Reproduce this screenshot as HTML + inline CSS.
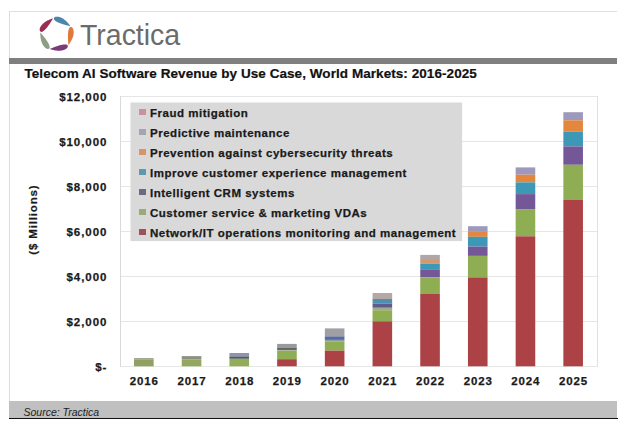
<!DOCTYPE html>
<html><head><meta charset="utf-8"><style>
html,body{margin:0;padding:0;background:#fff;width:630px;height:427px;overflow:hidden}
body{position:relative;font-family:"Liberation Sans",sans-serif}
.abs{position:absolute}
.yl{position:absolute;left:40px;width:67.4px;text-align:right;font-weight:bold;font-size:11.5px;line-height:15px;color:#1a1a1a;letter-spacing:0.95px;-webkit-text-stroke:0.25px #1a1a1a}
.xl{position:absolute;top:374.2px;width:60px;text-align:center;font-weight:bold;font-size:11.5px;line-height:15px;color:#1a1a1a;letter-spacing:0.85px;text-indent:0.85px;-webkit-text-stroke:0.25px #1a1a1a}
.lr{position:absolute;left:139px;height:14px;font-weight:bold;font-size:11.5px;line-height:14px;color:#1a1a1a;white-space:nowrap;letter-spacing:0.52px;-webkit-text-stroke:0.25px #1a1a1a}
.mk{display:inline-block;width:6.5px;height:6.5px;margin-right:4.5px;vertical-align:1.5px}
</style></head><body>
<div class="abs" style="left:9px;top:11px;width:608px;height:1px;background:#e0e0e0"></div>
<div class="abs" style="left:9px;top:11px;width:1px;height:390px;background:#dcdcdc"></div>
<svg class="abs" style="left:0;top:0" width="100" height="70"><path d="M53.90,18.08 L54.88,17.12 L55.52,16.86 L56.10,16.73 L56.65,16.66 L57.16,16.65 L57.67,16.67 L58.15,16.73 L58.63,16.81 L59.09,16.91 L59.54,17.03 L59.98,17.17 L60.42,17.33 L60.85,17.50 L61.27,17.69 L61.68,17.89 L62.09,18.10 L62.49,18.33 L62.89,18.57 L63.28,18.82 L63.67,19.08 L64.05,19.35 L64.42,19.63 L64.80,19.92 L65.16,20.22 L65.52,20.53 L65.88,20.84 L66.24,21.17 L66.58,21.50 L66.93,21.85 L67.27,22.20 L67.61,22.56 L67.94,22.93 L68.27,23.30 L68.60,23.68 L68.92,24.07 L69.24,24.47 L69.55,24.88 L69.86,25.29 L70.17,25.71 L70.48,26.14 L70.48,26.14 L70.01,26.03 L69.55,25.93 L69.09,25.82 L68.63,25.71 L68.17,25.60 L67.71,25.49 L67.26,25.38 L66.80,25.27 L66.34,25.15 L65.89,25.03 L65.44,24.91 L64.98,24.79 L64.53,24.66 L64.08,24.53 L63.63,24.40 L63.19,24.27 L62.74,24.13 L62.30,23.99 L61.85,23.85 L61.41,23.70 L60.97,23.55 L60.54,23.39 L60.10,23.23 L59.67,23.07 L59.24,22.90 L58.82,22.72 L58.39,22.53 L57.97,22.34 L57.56,22.14 L57.15,21.93 L56.74,21.72 L56.34,21.48 L55.95,21.24 L55.57,20.98 L55.19,20.69 L54.83,20.38 L54.49,20.04 L54.17,19.64 L53.90,19.14 L53.90,18.08Z" fill="#4c87ab"/><path d="M70.96,26.84 L72.17,27.48 L72.62,28.01 L72.93,28.52 L73.16,29.01 L73.33,29.50 L73.46,29.99 L73.56,30.47 L73.63,30.94 L73.68,31.41 L73.70,31.88 L73.70,32.35 L73.69,32.81 L73.65,33.27 L73.61,33.73 L73.54,34.19 L73.47,34.64 L73.38,35.09 L73.27,35.54 L73.16,35.99 L73.03,36.44 L72.89,36.88 L72.74,37.33 L72.58,37.77 L72.41,38.21 L72.22,38.65 L72.03,39.09 L71.83,39.53 L71.62,39.96 L71.40,40.40 L71.17,40.83 L70.93,41.26 L70.69,41.69 L70.43,42.12 L70.17,42.55 L69.90,42.98 L69.62,43.40 L69.33,43.83 L69.03,44.25 L68.73,44.67 L68.42,45.10 L68.42,45.10 L68.38,44.62 L68.33,44.15 L68.29,43.68 L68.25,43.21 L68.21,42.74 L68.18,42.27 L68.14,41.80 L68.11,41.33 L68.08,40.86 L68.05,40.39 L68.03,39.92 L68.00,39.45 L67.98,38.99 L67.97,38.52 L67.95,38.05 L67.94,37.59 L67.93,37.12 L67.93,36.65 L67.93,36.19 L67.93,35.72 L67.94,35.26 L67.96,34.80 L67.97,34.33 L68.00,33.87 L68.03,33.41 L68.07,32.95 L68.11,32.49 L68.16,32.03 L68.22,31.58 L68.30,31.12 L68.38,30.67 L68.48,30.22 L68.59,29.77 L68.72,29.32 L68.87,28.88 L69.05,28.44 L69.28,28.00 L69.56,27.58 L69.95,27.17 L70.96,26.84Z" fill="#df7a3c"/><path d="M67.90,45.78 L67.67,47.12 L67.30,47.71 L66.91,48.16 L66.51,48.53 L66.10,48.85 L65.68,49.13 L65.25,49.37 L64.82,49.58 L64.39,49.77 L63.95,49.94 L63.51,50.08 L63.06,50.21 L62.62,50.32 L62.17,50.42 L61.71,50.50 L61.26,50.57 L60.80,50.62 L60.34,50.66 L59.87,50.69 L59.41,50.71 L58.94,50.71 L58.47,50.71 L58.00,50.69 L57.53,50.66 L57.06,50.63 L56.58,50.58 L56.10,50.52 L55.62,50.46 L55.14,50.38 L54.66,50.30 L54.18,50.21 L53.69,50.10 L53.20,49.99 L52.71,49.88 L52.22,49.75 L51.73,49.62 L51.24,49.47 L50.74,49.32 L50.25,49.16 L49.75,49.00 L49.75,49.00 L50.19,48.81 L50.62,48.62 L51.06,48.44 L51.49,48.26 L51.93,48.07 L52.36,47.89 L52.80,47.72 L53.24,47.54 L53.67,47.37 L54.11,47.20 L54.55,47.03 L54.99,46.86 L55.43,46.70 L55.87,46.54 L56.31,46.38 L56.75,46.22 L57.19,46.07 L57.63,45.92 L58.07,45.78 L58.52,45.64 L58.96,45.51 L59.40,45.37 L59.85,45.25 L60.30,45.13 L60.74,45.02 L61.19,44.91 L61.64,44.81 L62.10,44.72 L62.55,44.64 L63.00,44.56 L63.46,44.50 L63.92,44.45 L64.38,44.42 L64.85,44.41 L65.32,44.42 L65.79,44.45 L66.27,44.53 L66.76,44.67 L67.28,44.91 L67.90,45.78Z" fill="#7a3b78"/><path d="M48.94,48.71 L47.59,48.91 L46.92,48.74 L46.37,48.51 L45.89,48.24 L45.46,47.95 L45.07,47.64 L44.71,47.31 L44.38,46.96 L44.06,46.61 L43.77,46.24 L43.49,45.87 L43.23,45.49 L42.99,45.09 L42.76,44.69 L42.54,44.29 L42.33,43.88 L42.14,43.46 L41.96,43.03 L41.79,42.60 L41.63,42.16 L41.48,41.72 L41.34,41.27 L41.21,40.82 L41.09,40.36 L40.98,39.90 L40.88,39.43 L40.78,38.96 L40.70,38.48 L40.62,38.00 L40.55,37.52 L40.49,37.03 L40.44,36.54 L40.39,36.04 L40.35,35.54 L40.32,35.03 L40.30,34.52 L40.28,34.01 L40.27,33.49 L40.27,32.97 L40.27,32.45 L40.27,32.45 L40.58,32.81 L40.90,33.16 L41.21,33.52 L41.52,33.88 L41.82,34.23 L42.13,34.59 L42.43,34.95 L42.73,35.31 L43.03,35.68 L43.33,36.04 L43.63,36.40 L43.92,36.77 L44.21,37.14 L44.50,37.51 L44.79,37.87 L45.07,38.25 L45.35,38.62 L45.63,38.99 L45.90,39.37 L46.17,39.75 L46.44,40.13 L46.70,40.51 L46.96,40.90 L47.21,41.28 L47.46,41.67 L47.70,42.07 L47.93,42.47 L48.16,42.87 L48.38,43.27 L48.58,43.68 L48.78,44.10 L48.97,44.52 L49.14,44.95 L49.30,45.39 L49.44,45.84 L49.55,46.30 L49.62,46.78 L49.65,47.29 L49.57,47.85 L48.94,48.71Z" fill="#8e9e84"/><path d="M40.30,31.59 L39.69,30.37 L39.64,29.68 L39.69,29.08 L39.80,28.55 L39.94,28.05 L40.12,27.58 L40.32,27.13 L40.54,26.71 L40.78,26.30 L41.04,25.91 L41.31,25.53 L41.60,25.16 L41.89,24.81 L42.20,24.47 L42.52,24.14 L42.85,23.81 L43.19,23.50 L43.54,23.20 L43.90,22.90 L44.26,22.61 L44.64,22.34 L45.02,22.07 L45.41,21.80 L45.81,21.55 L46.21,21.30 L46.63,21.05 L47.05,20.82 L47.47,20.59 L47.91,20.37 L48.35,20.15 L48.79,19.94 L49.24,19.74 L49.70,19.54 L50.17,19.35 L50.64,19.17 L51.12,18.99 L51.60,18.81 L52.09,18.64 L52.58,18.48 L53.08,18.32 L53.08,18.32 L52.84,18.73 L52.60,19.13 L52.35,19.54 L52.11,19.94 L51.86,20.35 L51.62,20.75 L51.37,21.15 L51.12,21.55 L50.87,21.95 L50.61,22.34 L50.36,22.74 L50.10,23.13 L49.84,23.52 L49.58,23.91 L49.32,24.29 L49.05,24.68 L48.78,25.06 L48.51,25.44 L48.24,25.81 L47.96,26.19 L47.68,26.56 L47.40,26.93 L47.11,27.29 L46.82,27.65 L46.53,28.00 L46.23,28.35 L45.92,28.70 L45.61,29.04 L45.29,29.37 L44.97,29.70 L44.63,30.02 L44.29,30.32 L43.93,30.62 L43.57,30.91 L43.18,31.18 L42.77,31.42 L42.34,31.64 L41.86,31.82 L41.30,31.92 L40.30,31.59Z" fill="#9a2e52"/></svg>
<div class="abs" style="left:80px;top:14.7px;font-size:29.8px;line-height:40px;color:#6b6b6b;letter-spacing:0px;transform:scaleX(0.955);transform-origin:0 0">Tractica</div>
<div class="abs" style="left:9px;top:57.5px;width:608px;height:6.5px;background:#7f7f7f"></div>
<div class="abs" style="left:24.5px;top:66.4px;font-size:13.5px;line-height:16px;font-weight:bold;color:#111;white-space:nowrap;letter-spacing:0.06px;-webkit-text-stroke:0.2px #111">Telecom AI Software Revenue by Use Case, World Markets: 2016-2025</div>
<svg class="abs" style="left:0;top:0" width="630" height="427">
<line x1="120" y1="366.5" x2="597" y2="366.5" stroke="#e6e6e6" stroke-width="1"/><line x1="120" y1="321.5" x2="597" y2="321.5" stroke="#e6e6e6" stroke-width="1"/><line x1="120" y1="276.5" x2="597" y2="276.5" stroke="#e6e6e6" stroke-width="1"/><line x1="120" y1="231.5" x2="597" y2="231.5" stroke="#e6e6e6" stroke-width="1"/><line x1="120" y1="186.5" x2="597" y2="186.5" stroke="#e6e6e6" stroke-width="1"/><line x1="120" y1="141.5" x2="597" y2="141.5" stroke="#e6e6e6" stroke-width="1"/><line x1="120" y1="96.5" x2="597" y2="96.5" stroke="#e6e6e6" stroke-width="1"/>
<line x1="120.5" y1="96" x2="120.5" y2="367" stroke="#d9d9d9" stroke-width="1"/>
<line x1="597.5" y1="96" x2="597.5" y2="367" stroke="#e0e0e0" stroke-width="1"/>
<rect x="130.5" y="102.5" width="331.6" height="138.6" fill="#d9d9d9"/>
<rect x="134.05" y="358.20" width="19.6" height="1.40" fill="#8e8f82"/><rect x="134.05" y="359.60" width="19.6" height="6.70" fill="#8fa060"/><rect x="181.75" y="356.10" width="19.6" height="3.20" fill="#8e8f86"/><rect x="181.75" y="359.30" width="19.6" height="7.00" fill="#92a85c"/><rect x="229.45" y="353.00" width="19.6" height="3.50" fill="#8d93b0"/><rect x="229.45" y="356.50" width="19.6" height="2.30" fill="#4f5a60"/><rect x="229.45" y="358.80" width="19.6" height="7.50" fill="#93ac5a"/><rect x="277.15" y="343.90" width="19.6" height="3.60" fill="#9a9a9c"/><rect x="277.15" y="347.50" width="19.6" height="2.70" fill="#5e6a62"/><rect x="277.15" y="350.20" width="19.6" height="0.80" fill="#a8b090"/><rect x="277.15" y="351.00" width="19.6" height="8.20" fill="#8fae53"/><rect x="277.15" y="359.20" width="19.6" height="7.10" fill="#ad4246"/><rect x="324.85" y="328.40" width="19.6" height="8.00" fill="#a0a0a4"/><rect x="324.85" y="336.40" width="19.6" height="3.50" fill="#5a68a0"/><rect x="324.85" y="339.90" width="19.6" height="1.80" fill="#8aa0a0"/><rect x="324.85" y="341.70" width="19.6" height="9.00" fill="#8fae53"/><rect x="324.85" y="350.70" width="19.6" height="15.60" fill="#ad4246"/><rect x="372.55" y="293.00" width="19.6" height="6.00" fill="#b5a7a3"/><rect x="372.55" y="299.00" width="19.6" height="4.70" fill="#4f90b0"/><rect x="372.55" y="303.70" width="19.6" height="4.10" fill="#5e5c8c"/><rect x="372.55" y="307.80" width="19.6" height="2.40" fill="#a3aa94"/><rect x="372.55" y="310.20" width="19.6" height="11.10" fill="#8fae53"/><rect x="372.55" y="321.30" width="19.6" height="45.00" fill="#ad4246"/><rect x="420.25" y="254.90" width="19.6" height="5.10" fill="#b0a6a8"/><rect x="420.25" y="260.00" width="19.6" height="3.80" fill="#d09a70"/><rect x="420.25" y="263.80" width="19.6" height="5.50" fill="#3d98b7"/><rect x="420.25" y="269.30" width="19.6" height="7.90" fill="#745797"/><rect x="420.25" y="277.20" width="19.6" height="16.40" fill="#8fae53"/><rect x="420.25" y="293.60" width="19.6" height="72.70" fill="#ad4246"/><rect x="467.95" y="226.20" width="19.6" height="5.70" fill="#9d99bc"/><rect x="467.95" y="231.90" width="19.6" height="4.90" fill="#e3863e"/><rect x="467.95" y="236.80" width="19.6" height="9.80" fill="#3d98b7"/><rect x="467.95" y="246.60" width="19.6" height="9.30" fill="#745797"/><rect x="467.95" y="255.90" width="19.6" height="21.50" fill="#8fae53"/><rect x="467.95" y="277.40" width="19.6" height="88.90" fill="#ad4246"/><rect x="515.65" y="167.40" width="19.6" height="7.30" fill="#9d99bc"/><rect x="515.65" y="174.70" width="19.6" height="7.70" fill="#e3863e"/><rect x="515.65" y="182.40" width="19.6" height="11.70" fill="#3d98b7"/><rect x="515.65" y="194.10" width="19.6" height="15.00" fill="#745797"/><rect x="515.65" y="209.10" width="19.6" height="27.20" fill="#8fae53"/><rect x="515.65" y="236.30" width="19.6" height="130.00" fill="#ad4246"/><rect x="563.35" y="112.20" width="19.6" height="8.10" fill="#9d99bc"/><rect x="563.35" y="120.30" width="19.6" height="11.20" fill="#e3863e"/><rect x="563.35" y="131.50" width="19.6" height="14.90" fill="#3d98b7"/><rect x="563.35" y="146.40" width="19.6" height="18.40" fill="#745797"/><rect x="563.35" y="164.80" width="19.6" height="35.20" fill="#8fae53"/><rect x="563.35" y="200.00" width="19.6" height="166.30" fill="#ad4246"/>
</svg>
<div class="yl" style="top:360.10px">$-</div><div class="yl" style="top:315.10px">$2,000</div><div class="yl" style="top:270.10px">$4,000</div><div class="yl" style="top:225.10px">$6,000</div><div class="yl" style="top:180.10px">$8,000</div><div class="yl" style="top:135.10px">$10,000</div><div class="yl" style="top:90.10px">$12,000</div>
<div class="xl" style="left:113.85px">2016</div><div class="xl" style="left:161.55px">2017</div><div class="xl" style="left:209.25px">2018</div><div class="xl" style="left:256.95px">2019</div><div class="xl" style="left:304.65px">2020</div><div class="xl" style="left:352.35px">2021</div><div class="xl" style="left:400.05px">2022</div><div class="xl" style="left:447.75px">2023</div><div class="xl" style="left:495.45px">2024</div><div class="xl" style="left:543.15px">2025</div>
<div class="lr" style="top:105.90px"><span class="mk" style="background:#c9929c"></span>Fraud mitigation</div><div class="lr" style="top:125.85px"><span class="mk" style="background:#a2a6b4"></span>Predictive maintenance</div><div class="lr" style="top:145.80px"><span class="mk" style="background:#d9956a"></span>Prevention against cybersecurity threats</div><div class="lr" style="top:165.75px"><span class="mk" style="background:#5f9aac"></span>Improve customer experience management</div><div class="lr" style="top:185.70px"><span class="mk" style="background:#6c6c80"></span>Intelligent CRM systems</div><div class="lr" style="top:205.65px"><span class="mk" style="background:#9aaa78"></span>Customer service &amp; marketing VDAs</div><div class="lr" style="top:225.60px"><span class="mk" style="background:#a0505a"></span>Network/IT operations monitoring and management</div>
<div class="abs" style="left:0;top:0;width:0;height:0"><div style="position:absolute;left:-7px;top:212px;width:80px;height:16px;transform:rotate(-90deg);font-weight:bold;font-size:11.5px;line-height:16px;text-align:center;color:#1a1a1a;white-space:nowrap;letter-spacing:0.85px;text-indent:0.85px;-webkit-text-stroke:0.2px #1a1a1a">($ Millions)</div></div>
<div class="abs" style="left:9px;top:400.8px;width:608px;height:16.9px;background:#c0c0c0"></div>
<div class="abs" style="left:9px;top:417.7px;width:609px;height:1.8px;background:#111"></div>
<div class="abs" style="left:23.5px;top:405px;font-size:10.5px;line-height:14px;font-style:italic;color:#222">Source: Tractica</div>
</body></html>
